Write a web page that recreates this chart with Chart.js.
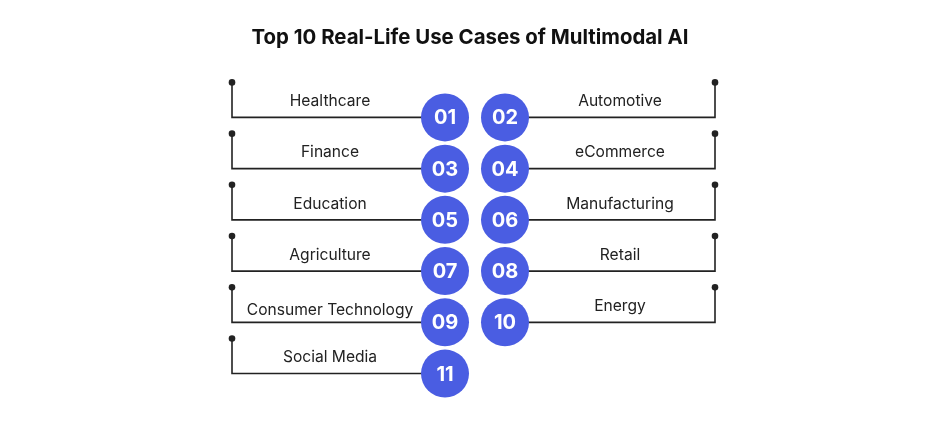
<!DOCTYPE html>
<html lang="en">
<head>
    <meta charset="UTF-8">
    <title>Top 10 Real-Life Use Cases of Multimodal AI</title>
    <script src="https://cdn.jsdelivr.net/npm/chart.js"></script>
    <style>
        html, body {
            margin: 0;
            padding: 0;
            background: #ffffff;
        }
        #chart-container {
            width: 940px;
            height: 427px;
        }
    </style>
</head>
<body>

<div id="chart-container">
    <canvas id="useCaseChart"></canvas>
</div>

<script>
    // use cases in the order of their numbers
    const useCases = [
        'Healthcare', 'Automotive', 'Finance', 'eCommerce', 'Education',
        'Manufacturing', 'Agriculture', 'Retail', 'Consumer Technology',
        'Energy', 'Social Media'
    ];
    const caseNumbers = ['01', '02', '03', '04', '05', '06', '07', '08', '09', '10', '11'];
    // 0 = left column, 1 = right column
    const columnIndex = [0, 1, 0, 1, 0, 1, 0, 1, 0, 1, 0];
    const rowIndex = [0, 0, 1, 1, 2, 2, 3, 3, 4, 4, 5];

    const circleColor = '#4a5de2';
    const inkColor = '#222222';

    // draws the bracket lines, the labels and the numbers in the circles
    const connectorPlugin = {
        id: 'connectors',
        beforeDatasetsDraw(chart) {
            const ctx = chart.ctx;
            const meta = chart.getDatasetMeta(0);
            ctx.save();
            ctx.strokeStyle = inkColor;
            ctx.fillStyle = inkColor;
            ctx.lineWidth = 1.6;
            ctx.font = '15.6px Inter, "Noto Sans", sans-serif';
            ctx.textAlign = 'center';
            ctx.textBaseline = 'middle';
            meta.data.forEach((pt, i) => {
                const side = columnIndex[i] === 0 ? -1 : 1;
                const reach = side < 0 ? 213 : 210;
                const endX = pt.x + side * reach;
                ctx.beginPath();
                ctx.moveTo(pt.x, pt.y);
                ctx.lineTo(endX, pt.y);
                ctx.lineTo(endX, pt.y - 35);
                ctx.stroke();
                ctx.beginPath();
                ctx.arc(endX, pt.y - 35, 3.3, 0, Math.PI * 2);
                ctx.fill();

                // long labels sit a little lower, closer to the line
                const wide = ctx.measureText(useCases[i]).width > 150;
                ctx.fillText(useCases[i], pt.x + side * 115, pt.y - (wide ? 12 : 16));
            });
            ctx.restore();
        },
        afterDatasetsDraw(chart) {
            const ctx = chart.ctx;
            const meta = chart.getDatasetMeta(0);
            ctx.save();
            ctx.fillStyle = '#ffffff';
            ctx.font = 'bold 20px Inter, "Noto Sans", sans-serif';
            ctx.textAlign = 'center';
            ctx.textBaseline = 'middle';
            meta.data.forEach((pt, i) => {
                ctx.fillText(caseNumbers[i], pt.x, pt.y + 1);
            });
            ctx.restore();
        }
    };

    document.addEventListener('DOMContentLoaded', function() {
        const ctx = document.getElementById('useCaseChart').getContext('2d');
        new Chart(ctx, {
            type: 'scatter',
            data: {
                datasets: [{
                    label: 'Use cases',
                    data: useCases.map((name, i) => ({ x: columnIndex[i], y: rowIndex[i] })),
                    backgroundColor: circleColor,
                    borderWidth: 0,
                    pointRadius: 24,
                    pointHoverRadius: 24
                }]
            },
            options: {
                responsive: true,
                maintainAspectRatio: false,
                animation: false,
                clip: false,
                layout: {
                    padding: 0,
                    autoPadding: false
                },
                scales: {
                    x: {
                        type: 'linear',
                        display: false,
                        min: -7.4167,
                        max: 8.25
                    },
                    y: {
                        type: 'linear',
                        display: false,
                        reverse: true,
                        min: -0.916,
                        max: 6.043
                    }
                },
                plugins: {
                    legend: { display: false },
                    tooltip: { enabled: false },
                    title: {
                        display: true,
                        text: 'Top 10 Real-Life Use Cases of Multimodal AI',
                        color: '#111111',
                        font: {
                            family: 'Inter, "Noto Sans", sans-serif',
                            size: 20.4,
                            weight: 'bold'
                        },
                        padding: { top: 26, bottom: 20 }
                    }
                }
            },
            plugins: [connectorPlugin]
        });
    });
</script>

</body>
</html>
